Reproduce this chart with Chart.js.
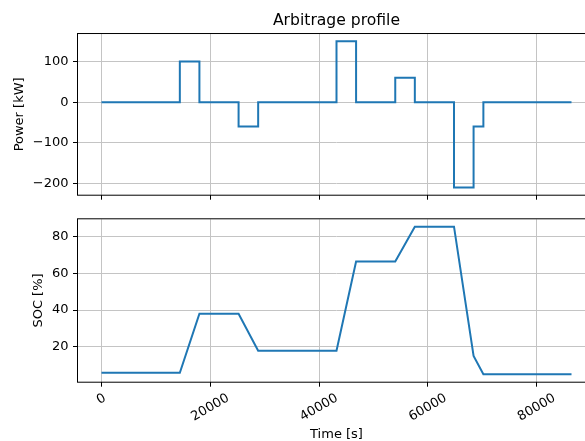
<!DOCTYPE html>
<html>
<head>
<meta charset="utf-8">
<script src="https://cdn.jsdelivr.net/npm/chart.js@4"></script>
<style>
  html, body { margin: 0; padding: 0; background: #fff; overflow: hidden; width: 585px; height: 441px; }
  canvas { position: absolute; left: 0; }
  #power { top: 0; }
  #soc { top: 207px; }
</style>
</head>
<body>
<canvas id="power" width="600" height="207"></canvas>
<canvas id="soc" width="600" height="234"></canvas>
<script>
// time of each change in the schedule [s]
const timeS = [0, 14400, 18000, 25200, 28800, 43200, 46800, 54000, 57600, 64800, 68400, 70200, 86400];
const powerKW = [0, 100, 0, -60, 0, 150, 0, 60, 0, -210, -60, 0, 0];
const socPct = [5.8, 5.8, 38, 38, 17.8, 17.8, 66.5, 66.5, 85.5, 85.5, 15, 5, 5];

const timeTicks = [0, 20000, 40000, 60000, 80000];
const powerTicks = [-200, -100, 0, 100];
const socTicks = [20, 40, 60, 80];

const FONT = 'DejaVu Sans';
const BLUE = '#1f77b4';
const GRID = '#c4c4c4';

Chart.defaults.font.family = FONT;
Chart.defaults.font.size = 13;
Chart.defaults.color = '#000';

// matplotlib style box around the axes
const frame = {
  id: 'frame',
  afterDraw(chart) {
    const { ctx, chartArea: a } = chart;
    ctx.save();
    ctx.strokeStyle = '#000';
    ctx.lineWidth = 1;
    ctx.strokeRect(a.left - 0.5, a.top - 0.5, a.right - a.left + 1, a.bottom - a.top + 1);
    ctx.restore();
  }
};

// x tick labels rotated 30 deg and centred under the tick, like matplotlib
const rotatedTimeLabels = {
  id: 'rotatedTimeLabels',
  afterDraw(chart) {
    const scale = chart.scales.x;
    const ctx = chart.ctx;
    const size = 13;
    const ang = 30 * Math.PI / 180;
    const top = chart.chartArea.bottom + 9;
    ctx.save();
    ctx.font = size + 'px "' + FONT + '"';
    ctx.fillStyle = '#000';
    ctx.textAlign = 'center';
    ctx.textBaseline = 'middle';
    timeTicks.forEach(v => {
      const label = String(v);
      const w = ctx.measureText(label).width;
      const h = size * 1.17;
      const boxH = w * Math.sin(ang) + h * Math.cos(ang);
      ctx.save();
      ctx.translate(scale.getPixelForValue(v), top + boxH / 2);
      ctx.rotate(-ang);
      ctx.fillText(label, 0, 0);
      ctx.restore();
    });
    ctx.restore();
  }
};

const minus = v => String(v).replace('-', '\u2212');

function xScale(fit, withTitle) {
  return {
    type: 'linear',
    min: -4320,
    max: 90720,
    afterBuildTicks: s => { s.ticks = timeTicks.map(v => ({ value: v })); },
    afterFit: s => { s.height = fit.h; },
    border: { display: false },
    grid: { color: GRID, lineWidth: 1, tickColor: '#000', tickLength: 5 },
    ticks: { display: false },
    title: withTitle
      ? { display: true, text: 'Time [s]', font: { size: 13, lineHeight: 1 }, padding: { top: 0, bottom: 0 } }
      : { display: false }
  };
}

function yScale(min, max, ticks, label, titlePad) {
  return {
    type: 'linear',
    min: min,
    max: max,
    afterBuildTicks: s => { s.ticks = ticks.map(v => ({ value: v })); },
    afterFit: s => { s.width = 78; },
    border: { display: false },
    grid: { color: GRID, lineWidth: 1, tickColor: '#000', tickLength: 5 },
    ticks: { padding: 4.5, callback: v => minus(v) },
    title: { display: true, text: label, font: { size: 13 }, padding: { top: titlePad, bottom: 0 } }
  };
}

function points(ys) {
  return timeS.map((t, i) => ({ x: t, y: ys[i] }));
}

// nudge the x axis height so the plot box ends where the reference has it
function settle(chart, fit, bottom) {
  const d = bottom - chart.chartArea.bottom;
  if (Math.abs(d) > 0.1) {
    fit.h -= d;
    chart.update();
  }
}

const powerFit = { h: 8 };
const powerChart = new Chart(document.getElementById('power'), {
  type: 'line',
  data: {
    datasets: [{
      data: points(powerKW),
      borderColor: BLUE,
      borderWidth: 2,
      pointRadius: 0,
      stepped: 'before',
      fill: false
    }]
  },
  options: {
    responsive: false,
    animation: false,
    layout: { autoPadding: false, padding: { top: 11.3, right: 5, left: 0, bottom: 0 } },
    plugins: {
      legend: { display: false },
      tooltip: { enabled: false },
      title: {
        display: true,
        text: 'Arbitrage profile',
        fullSize: false,
        font: { size: 15.6, weight: 'normal' },
        color: '#000',
        padding: { top: 0, bottom: 4 }
      }
    },
    scales: {
      x: xScale(powerFit, false),
      y: yScale(-228, 168, powerTicks, 'Power [kW]', 11.4)
    }
  },
  plugins: [frame]
});
settle(powerChart, powerFit, 199.3);

const socFit = { h: 59 };
const socChart = new Chart(document.getElementById('soc'), {
  type: 'line',
  data: {
    datasets: [{
      data: points(socPct),
      borderColor: BLUE,
      borderWidth: 2,
      pointRadius: 0,
      tension: 0,
      fill: false
    }]
  },
  options: {
    responsive: false,
    animation: false,
    layout: { autoPadding: false, padding: { top: 10.3, right: 5, left: 0, bottom: 0 } },
    plugins: {
      legend: { display: false },
      tooltip: { enabled: false }
    },
    scales: {
      x: xScale(socFit, true),
      y: yScale(0.975, 89.5, socTicks, 'SOC [%]', 30.5)
    }
  },
  plugins: [frame, rotatedTimeLabels]
});
settle(socChart, socFit, 174.7);
</script>
</body>
</html>
